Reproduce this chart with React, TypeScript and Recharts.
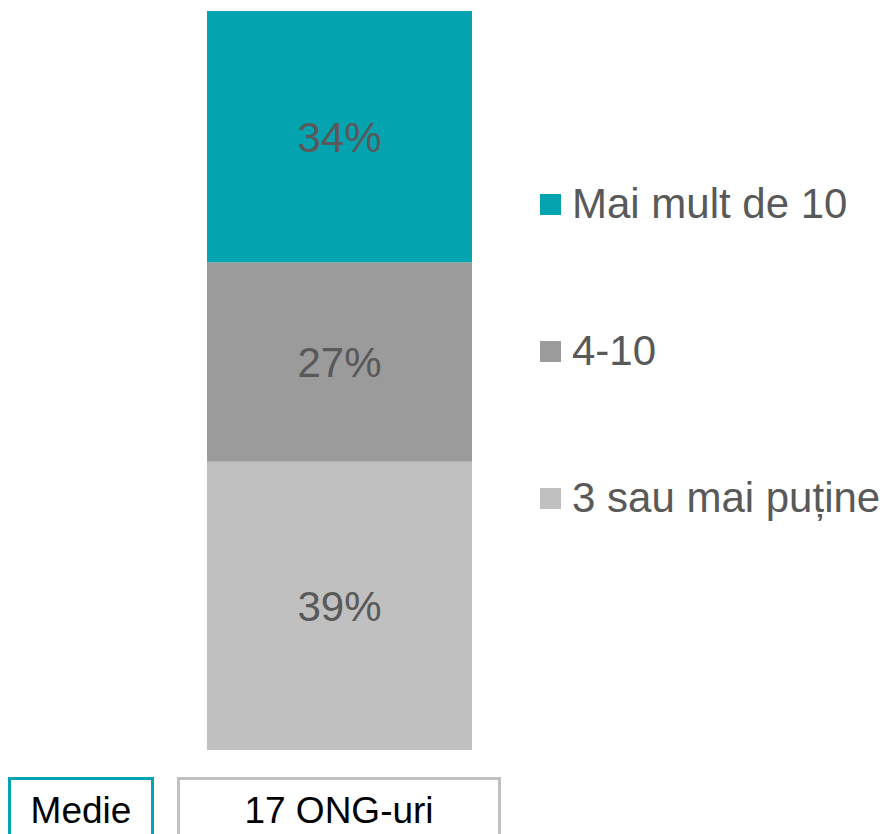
import React from "react";
import { BarChart, Bar, XAxis, YAxis, LabelList } from "recharts";

const categories = ["Medie"];
const seriesNames = ["3 sau mai puține", "4-10", "Mai mult de 10"];
const lowValues = [39];
const midValues = [27];
const highValues = [34];
const colors = ["#C0C0C0", "#9B9B9B", "#03A3AF"];
const sampleLabel = "17 ONG-uri";

const data = categories.map((c, i) => ({
  name: c,
  low: lowValues[i],
  mid: midValues[i],
  high: highValues[i],
}));

const FONT = "'Liberation Sans', Arial, sans-serif";

const legendOrder = [2, 1, 0];

const LegendBlock = () => (
  <div style={{ position: "absolute", left: 540, top: 184, fontFamily: FONT }}>
    {legendOrder.map((idx, k) => (
      <div
        key={idx}
        style={{
          position: "absolute",
          left: 0,
          top: k * 147,
          display: "flex",
          alignItems: "center",
          height: 40,
          whiteSpace: "nowrap",
        }}
      >
        <span
          style={{
            display: "inline-block",
            width: 21,
            height: 21,
            background: colors[idx],
            marginRight: 11,
          }}
        />
        <span style={{ fontSize: 42, color: "#595959" }}>{seriesNames[idx]}</span>
      </div>
    ))}
  </div>
);

const fmt = (v: number) => `${v}%`;

export default function App() {
  return (
    <div style={{ position: "absolute", left: 0, top: 0, width: 890, height: 834, background: "#fff", overflow: "hidden" }}>
      <BarChart
        width={890}
        height={834}
        data={data}
        margin={{ top: 11, right: 418, bottom: 84, left: 207 }}
        barCategoryGap={0}
      >
        <XAxis dataKey="name" hide />
        <YAxis hide domain={[0, 100]} />
        <Bar dataKey="low" stackId="a" fill={colors[0]} isAnimationActive={false}>
          <LabelList dataKey="low" position="center" formatter={fmt} fill="#595959" fontSize={42} fontFamily={FONT} />
        </Bar>
        <Bar dataKey="mid" stackId="a" fill={colors[1]} isAnimationActive={false}>
          <LabelList dataKey="mid" position="center" formatter={fmt} fill="#595959" fontSize={42} fontFamily={FONT} />
        </Bar>
        <Bar dataKey="high" stackId="a" fill={colors[2]} isAnimationActive={false}>
          <LabelList dataKey="high" position="center" formatter={fmt} fill="#595959" fontSize={42} fontFamily={FONT} />
        </Bar>
      </BarChart>
      <LegendBlock />
      <div
        style={{
          position: "absolute",
          left: 8,
          top: 777,
          width: 146,
          height: 80,
          boxSizing: "border-box",
          border: "3px solid #03A3AF",
          fontFamily: FONT,
          fontSize: 37,
          color: "#000",
          textAlign: "center",
          paddingTop: 10,
        }}
      >
        {categories[0]}
      </div>
      <div
        style={{
          position: "absolute",
          left: 177,
          top: 777,
          width: 324,
          height: 80,
          boxSizing: "border-box",
          border: "3px solid #C0C0C0",
          fontFamily: FONT,
          fontSize: 37,
          color: "#000",
          textAlign: "center",
          paddingTop: 10,
        }}
      >
        {sampleLabel}
      </div>
    </div>
  );
}
